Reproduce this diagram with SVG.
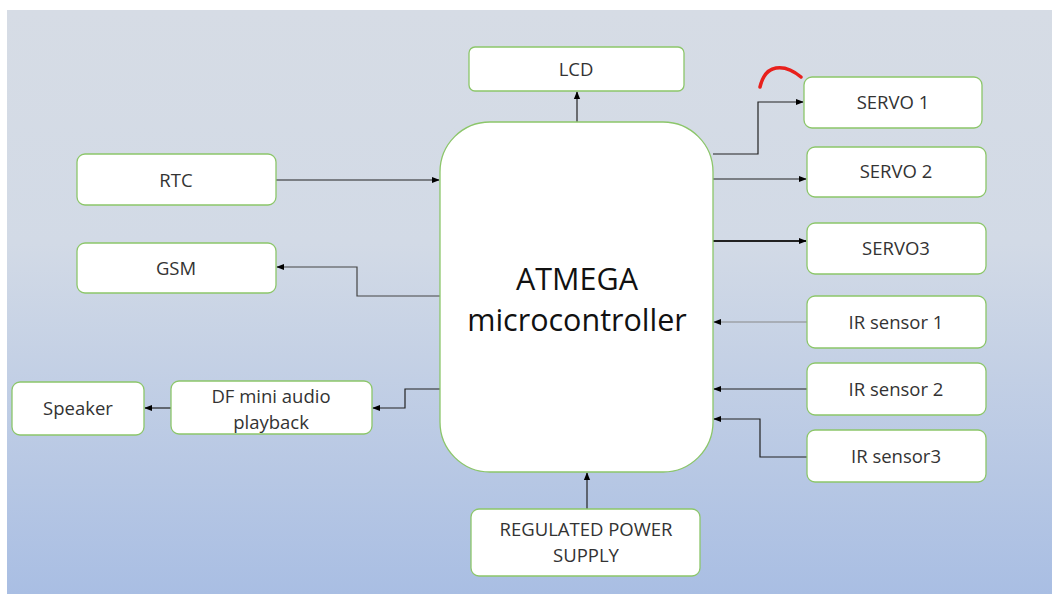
<svg xmlns="http://www.w3.org/2000/svg" width="1052" height="594" viewBox="0 0 1052 594">
<defs>
<linearGradient id="bg" x1="0" y1="0" x2="0" y2="1">
<stop offset="0" stop-color="#D6DCE5"/>
<stop offset="0.4" stop-color="#D2DAE6"/>
<stop offset="1" stop-color="#A9BEE3"/>
</linearGradient>
<marker id="ah" viewBox="0 0 10 10" refX="9" refY="5" markerWidth="8" markerHeight="8" markerUnits="userSpaceOnUse" orient="auto">
<path d="M0,1 L10,5 L0,9 z" fill="#000"/>
</marker>
<style>
.n{fill:#fff;stroke:#8CC66A;stroke-width:1.3}
.t{font-family:"Open Sans",Lato,"Liberation Sans",sans-serif;font-size:18.5px;fill:#333;text-anchor:middle}
.big{font-size:30.5px;fill:#111}
.c{fill:none;stroke:#222;stroke-width:1.2;marker-end:url(#ah)}
</style>
</defs>
<rect x="7" y="10" width="1045" height="584" fill="url(#bg)"/>
<g id="connectors">
<path class="c" d="M577,122 V92"/>
<path class="c" d="M713,154 H758 V102 H803"/>
<path class="c" d="M713,179 H806"/>
<path class="c" style="stroke-width:1.8" d="M713,241 H806"/>
<path class="c" style="stroke:#888" d="M807,322 H714"/>
<path class="c" d="M807,389 H714"/>
<path class="c" d="M807,457 H760 V419 H714"/>
<path class="c" d="M276,180 H439"/>
<path class="c" style="stroke:#444" d="M440,296 H357 V267 H277"/>
<path class="c" d="M440,389 H405 V408 H373"/>
<path class="c" d="M171,408 H145"/>
<path class="c" d="M587,509 V473"/>
</g>
<path d="M760,87 Q764,70 776,68 Q788,66 801,77" fill="none" stroke="#E8201C" stroke-width="3.5" stroke-linecap="round"/>
<g id="main"><rect class="n" x="440" y="122" width="273" height="350" rx="50"/><text class="t big" x="577" y="290">ATMEGA</text><text class="t big" x="577" y="331">microcontroller</text></g>
<g id="lcd"><rect class="n" x="469" y="47" width="215" height="44" rx="6"/><text class="t" x="576" y="76">LCD</text></g>
<g id="servo1"><rect class="n" x="804" y="77" width="178" height="51" rx="8"/><text class="t" x="893" y="109">SERVO 1</text></g>
<g id="servo2"><rect class="n" x="807" y="147" width="179" height="50" rx="8"/><text class="t" x="896" y="178">SERVO 2</text></g>
<g id="servo3"><rect class="n" x="807" y="223" width="179" height="51" rx="8"/><text class="t" x="896" y="255">SERVO3</text></g>
<g id="ir1"><rect class="n" x="807" y="296" width="179" height="52" rx="8"/><text class="t" x="896" y="329">IR sensor 1</text></g>
<g id="ir2"><rect class="n" x="807" y="363" width="179" height="52" rx="8"/><text class="t" x="896" y="396">IR sensor 2</text></g>
<g id="ir3"><rect class="n" x="807" y="430" width="179" height="52" rx="8"/><text class="t" x="896" y="463">IR sensor3</text></g>
<g id="rtc"><rect class="n" x="77" y="154" width="199" height="51" rx="8"/><text class="t" x="176" y="187">RTC</text></g>
<g id="gsm"><rect class="n" x="77" y="243" width="199" height="50" rx="8"/><text class="t" x="176" y="275">GSM</text></g>
<g id="speaker"><rect class="n" x="12" y="382" width="132" height="53" rx="8"/><text class="t" x="78" y="415">Speaker</text></g>
<g id="df"><rect class="n" x="171" y="381" width="201" height="53" rx="8"/><text class="t" x="271" y="403">DF mini audio</text><text class="t" x="271" y="429">playback</text></g>
<g id="power"><rect class="n" x="471" y="509" width="229" height="67" rx="8"/><text class="t" x="586" y="536">REGULATED POWER</text><text class="t" x="586" y="562">SUPPLY</text></g>
</svg>
